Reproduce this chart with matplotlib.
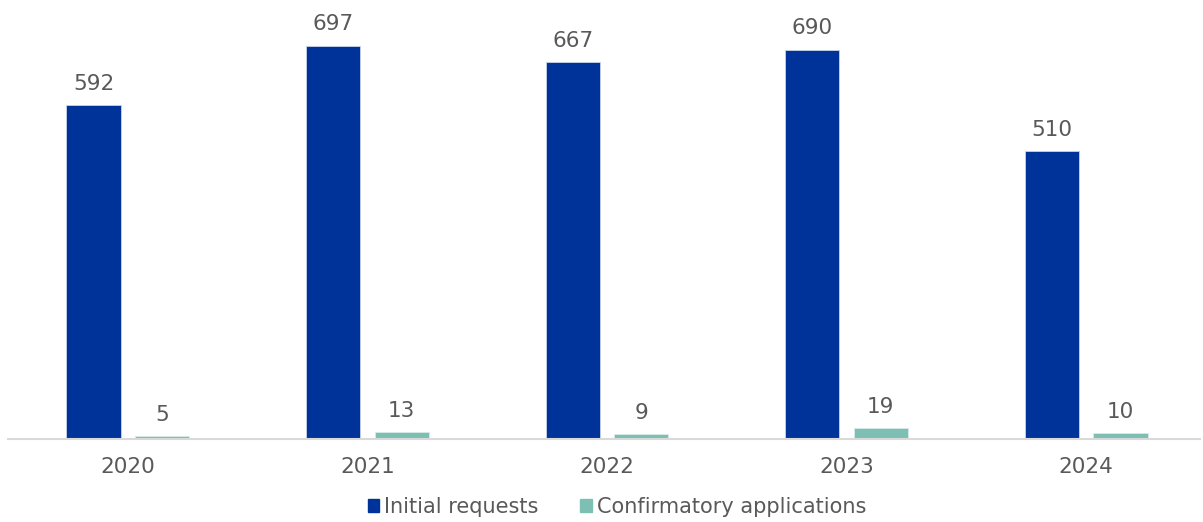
import matplotlib
matplotlib.use('Agg')
import matplotlib.pyplot as plt
from matplotlib.patches import Patch
from numpy import arange

years = ['2020', '2021', '2022', '2023', '2024']
initial_requests = [592, 697, 667, 690, 510]
confirmatory_applications = [5, 13, 9, 19, 10]

blue = '#003399'
teal = '#7dbfb3'
text_color = '#595959'

plt.rcParams['font.family'] = ['DejaVu Sans']

fig = plt.figure(figsize=(12.03, 5.22), dpi=100)
ax = fig.add_axes([8 / 1203, 1 - 439 / 522, 1192 / 1203, 429 / 522])

x = arange(len(years))
width = 0.226
offset = 0.143

bars_initial = ax.bar(x - offset, initial_requests, width, color=blue,
                      edgecolor='#c9d3ea', linewidth=0.6)
bars_confirm = ax.bar(x + offset, confirmatory_applications, width, color=teal,
                      edgecolor='#d8ece8', linewidth=0.6)

for bars in [bars_initial, bars_confirm]:
    ax.bar_label(bars, padding=8, fontsize=15.5, color=text_color)

ax.set_xlim(-0.5, len(years) - 0.525)
ax.set_ylim(0, 760)
ax.set_xticks(x)
ax.set_xticklabels(years, fontsize=15.5, color=text_color)
ax.tick_params(axis='x', length=0, pad=13)
ax.set_yticks([])

for side in ['top', 'right', 'left']:
    ax.spines[side].set_visible(False)
ax.spines['bottom'].set_color('#d9d9d9')
ax.spines['bottom'].set_linewidth(1.5)

handles = [Patch(color=blue, label='Initial requests'),
           Patch(color=teal, label='Confirmatory applications')]
fig.legend(handles=handles, loc='center', bbox_to_anchor=(0.513, 1 - 507 / 522),
           ncol=2, frameon=False, fontsize=15, labelcolor=text_color,
           handlelength=0.55, handleheight=0.55, handletextpad=0.25,
           columnspacing=2.0)

fig.savefig('out.png', dpi=100)
